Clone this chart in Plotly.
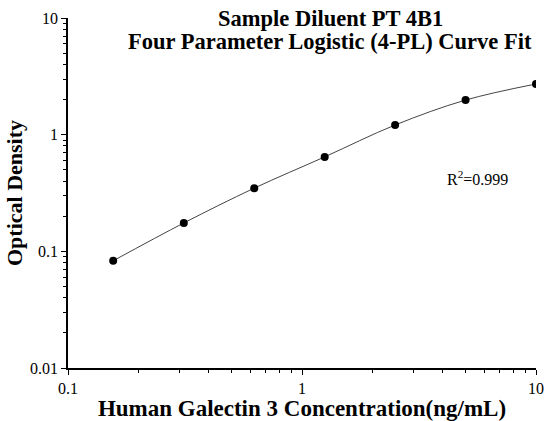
import plotly.graph_objects as go

concentration = [0.156, 0.3125, 0.625, 1.25, 2.5, 5, 10]
optical_density = [0.083, 0.175, 0.348, 0.645, 1.21, 1.98, 2.72]
x_tick_vals = [0.1, 1, 10]
x_tick_text = ["0.1", "1", "10"]
y_tick_vals = [0.01, 0.1, 1, 10]
y_tick_text = ["0.01", "0.1", "1", "10"]

font_family = "Liberation Serif, Times New Roman, serif"

fig = go.Figure()
fig.add_trace(go.Scatter(
    x=concentration, y=optical_density, mode="lines",
    line=dict(color="#444444", width=1, shape="spline", smoothing=1.0),
    hoverinfo="skip", showlegend=False))
fig.add_trace(go.Scatter(
    x=concentration, y=optical_density, mode="markers",
    marker=dict(color="black", size=8), showlegend=False))

axis_common = dict(
    type="log", showgrid=False, zeroline=False, showline=True, automargin=False,
    linecolor="black", linewidth=1.5, ticks="outside", ticklen=5,
    tickwidth=1.2, tickcolor="black",
    tickfont=dict(family=font_family, size=16, color="black"),
    minor=dict(ticks="outside", ticklen=3, tickcolor="black", tickwidth=1,
               dtick="D1", showgrid=False),
)

fig.update_xaxes(range=[-1, 1], tickvals=x_tick_vals, ticktext=x_tick_text,
                 title=dict(text="<b>Human Galectin 3 Concentration(ng/mL)</b>",
                            font=dict(family=font_family, size=23, color="black"),
                            standoff=1),
                 **axis_common)
fig.update_yaxes(range=[-2, 1], tickvals=y_tick_vals, ticktext=y_tick_text,
                 title=dict(text="<b>Optical Density</b>",
                            font=dict(family=font_family, size=22, color="black"),
                            standoff=1),
                 **axis_common)

fig.add_annotation(x=0.56, y=1.0, xref="paper", yref="paper", xanchor="center",
                   yanchor="middle",
                   text="<b>Sample Diluent PT 4B1</b>", showarrow=False,
                   font=dict(family=font_family, size=22.5, color="black"))
fig.add_annotation(x=0.56, y=0.932, xref="paper", yref="paper", xanchor="center",
                   yanchor="middle",
                   text="<b>Four Parameter Logistic (4-PL) Curve Fit</b>", showarrow=False,
                   font=dict(family=font_family, size=22.5, color="black"))
fig.add_annotation(x=0.876, y=0.543, xref="paper", yref="paper", xanchor="center",
                   yanchor="middle",
                   text="R<sup>2</sup>=0.999", showarrow=False,
                   font=dict(family=font_family, size=16, color="black"))

fig.update_layout(width=547, height=421, margin=dict(l=68, r=11, t=18, b=53),
                  plot_bgcolor="white", paper_bgcolor="white",
                  font=dict(family=font_family, color="black"))
fig.write_html(
    "out.html",
    config={"displayModeBar": False},
    post_script="document.body.style.margin='0';"
                "document.documentElement.style.overflow='hidden';",
)
